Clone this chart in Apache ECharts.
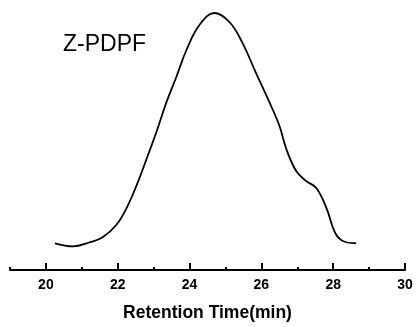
<!DOCTYPE html>
<html>
<head>
<meta charset="utf-8">
<script src="https://cdn.jsdelivr.net/npm/echarts@6/dist/echarts.min.js"></script>
<style>html,body{margin:0;padding:0;background:#fff;}#c{width:416px;height:327px;}</style>
</head>
<body>
<div id="c"></div>
<script>
const retentionTime = [20.25, 20.75, 21.22, 21.58, 21.97, 22.25, 22.53, 22.81, 23.08, 23.36, 23.64, 23.92, 24.28, 24.69, 25.11, 25.47, 25.83, 26.22, 26.5, 26.69, 26.97, 27.25, 27.53, 27.81, 28.08, 28.36, 28.64];
const signal = [0.104, 0.092, 0.108, 0.127, 0.177, 0.242, 0.331, 0.435, 0.538, 0.654, 0.754, 0.858, 0.954, 1.0, 0.965, 0.885, 0.773, 0.654, 0.562, 0.473, 0.385, 0.346, 0.319, 0.242, 0.138, 0.108, 0.104];
const majorTicks = [20, 22, 24, 26, 28, 30];
const minorTicks = [19, 21, 23, 25, 27, 29];
const sampleLabel = 'Z-PDPF';
const axisTitle = 'Retention Time(min)';

const chart = echarts.init(document.getElementById('c'));
chart.setOption({
  animation: false,
  backgroundColor: '#fff',
  grid: { left: 10, right: 11, top: 13, bottom: 54 },
  xAxis: [{
    type: 'value', min: 19, max: 30, interval: 1,
    axisLine: { show: true, lineStyle: { color: '#000', width: 2 } },
    axisTick: { show: true, inside: true, length: 7, customValues: majorTicks, lineStyle: { color: '#000', width: 2 } },
    axisLabel: { show: true, customValues: majorTicks, color: '#000', fontFamily: 'Liberation Sans, Arial', fontWeight: 'bold', fontSize: 14, margin: 8 },
    splitLine: { show: false },
    name: axisTitle, nameLocation: 'middle', nameGap: 34,
    nameTextStyle: { color: '#000', fontFamily: 'Liberation Sans, Arial', fontWeight: 'bold', fontSize: 17.5 }
  }, {
    type: 'value', min: 19, max: 30, interval: 1, position: 'bottom',
    axisLine: { show: false },
    axisTick: { show: true, inside: true, length: 3, customValues: minorTicks, lineStyle: { color: '#000', width: 2 } },
    axisLabel: { show: false },
    splitLine: { show: false }
  }],
  yAxis: { type: 'value', min: 0, max: 1, show: false, splitLine: { show: false } },
  graphic: [{
    type: 'text', left: 63, top: 33,
    style: { text: sampleLabel, fill: '#000', font: '23px "Liberation Sans", Arial' }
  }],
  series: [{
    type: 'line', xAxisIndex: 0,
    data: retentionTime.map((t, i) => [t, signal[i]]),
    smooth: 0.4, showSymbol: false,
    lineStyle: { color: '#000', width: 1.8 }
  }]
});
</script>
</body>
</html>
